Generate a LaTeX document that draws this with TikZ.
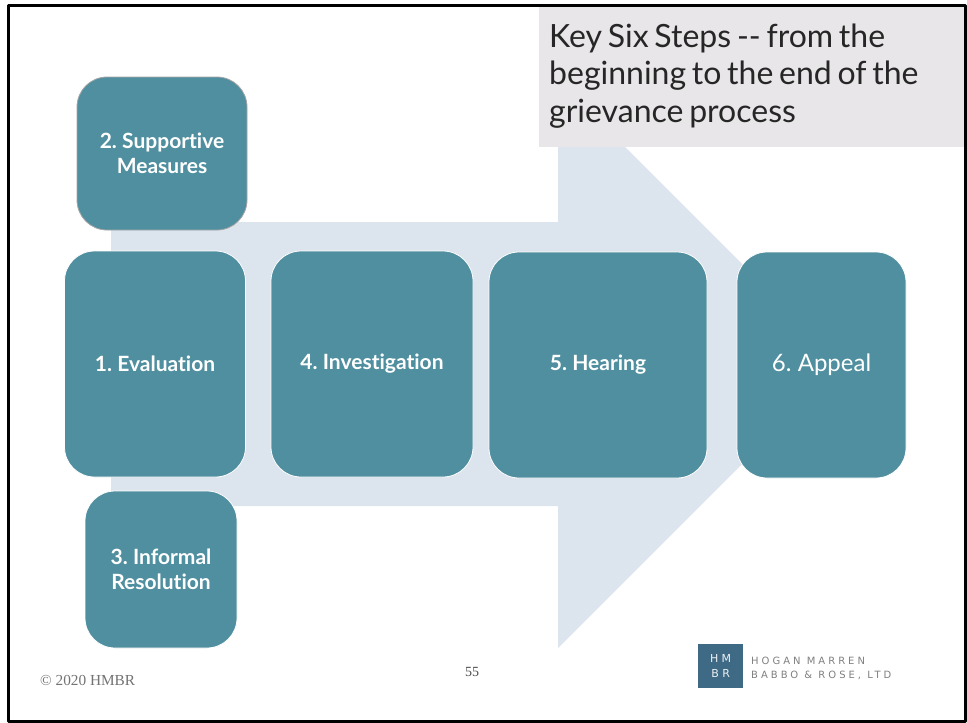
\documentclass[tikz,border=0pt]{standalone}
\usepackage{fontspec}
\setmainfont{Lato}[Ligatures=NoCommon,WordSpace=0.7]
\newfontfamily\footfont{Liberation Serif}
\newfontfamily\logofont[LetterSpace=30]{DejaVu Sans}
\definecolor{stepteal}{HTML}{4F8F9F}
\definecolor{arrowblue}{HTML}{DCE4ED}
\definecolor{titlegray}{HTML}{E8E6E8}
\definecolor{logoblue}{HTML}{3F6A85}
\tikzset{
	stepbox/.style={draw=white,line width=0.8pt,fill=stepteal,rounded corners=30pt,inner sep=0pt,align=center,text=white,font=\fontsize{21}{25}\selectfont\bfseries},
	logotext/.style={anchor=west,inner sep=0pt,text=black!50,font=\fontsize{10}{12}\selectfont\logofont}
}
\begin{document}
\begin{tikzpicture}[x=1pt,y=-1pt,line join=round]
	\useasboundingbox (0,0) rectangle (967,723);
	\fill[white] (0,0) rectangle (967,723);
	% big arrow behind the steps
	\fill[arrowblue] (111,222)--(558,222)--(558,80)--(842,364)--(558,648)--(558,506)--(111,506)--cycle;
	% title
	\node (title) [anchor=north west,minimum width=425pt,minimum height=141pt,inner sep=0pt,fill=titlegray] at (539,6) {};
	\node (titletext) [anchor=west,inner sep=0pt,align=left,text=black!85,font=\fontsize{32}{37.2}\selectfont] at (549,76) {Key Six Steps -{}- from the\\beginning to the end of the\\grievance process};
	% steps
	\node (two) [stepbox,draw=black!35,minimum width=170pt,minimum height=153pt] at (162,153.5) {2. Supportive\\Measures};
	\node (one) [stepbox,minimum width=181pt,minimum height=226pt] at (155,364) {1. Evaluation};
	\node (three) [stepbox,minimum width=152pt,minimum height=157pt] at (161,569.5) {3. Informal\\Resolution};
	\node (four) [stepbox,minimum width=202pt,minimum height=226pt] at (372,364) {4. Investigation};
	\node (five) [stepbox,minimum width=218pt,minimum height=226pt] at (598,365) {5. Hearing};
	\node (six) [stepbox,minimum width=169pt,minimum height=226pt,font=\fontsize{24}{28}\selectfont] at (821.5,365) {6. Appeal};
	% footer
	\node (copy) [anchor=west,inner sep=0pt,text=black!55,font=\fontsize{15.3}{17}\selectfont\footfont] at (40,680) {© 2020 HMBR};
	\node (page) [inner sep=0pt,text=black!70,font=\fontsize{14}{16}\selectfont\footfont] at (472,672) {55};
	% logo
	\node (logo) [anchor=north west,minimum width=45pt,minimum height=44pt,inner sep=0pt,fill=logoblue,align=center,text=white!90!logoblue,font=\fontsize{11}{15}\selectfont\logofont] at (698,644) {HM\\BR};
	\node (logoa) [logotext] at (751,660.5) {HOGAN MARREN};
	\node (logob) [logotext] at (751,675.5) {BABBO \& ROSE, LTD};
	% frame
	\draw[line width=3pt] (8,5)--(965,5)--(965,721)--(8,721)--cycle;
\end{tikzpicture}
\end{document}
